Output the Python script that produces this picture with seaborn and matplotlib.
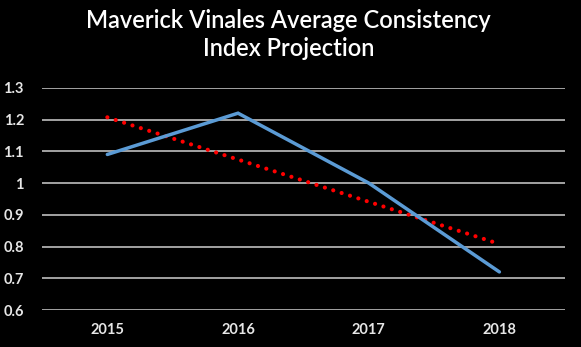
import numpy as np
import pandas as pd
import matplotlib
matplotlib.use("Agg")
import matplotlib.pyplot as plt
import seaborn as sns

years = [2015, 2016, 2017, 2018]
consistency = [1.09, 1.22, 1.0, 0.72]
yticks = [0.6, 0.7, 0.8, 0.9, 1.0, 1.1, 1.2, 1.3]
ytick_labels = ["0.6", "0.7", "0.8", "0.9", "1", "1.1", "1.2", "1.3"]
title = "Maverick Vinales Average Consistency\nIndex Projection"

sns.set_style("dark")
plt.rcParams["font.family"] = ["Lato", "DejaVu Sans"]

df = pd.DataFrame({"year": years, "value": consistency})
coef = np.polyfit(df["year"], df["value"], 1)
df["trend"] = np.polyval(coef, df["year"])

fig = plt.figure(figsize=(5.81, 3.47), dpi=100, facecolor="black")
ax = fig.add_axes([0.0723, 0.1066, 0.8997, 0.6404])
ax.set_facecolor("black")

for y in yticks:
    ax.axhline(y, color="#b0b0b0", lw=1.3, zorder=0)

sns.lineplot(data=df, x="year", y="trend", ax=ax, color="#ff0000", lw=3.0,
             linestyle=(0, (0.01, 2.1)), solid_capstyle="round",
             dash_capstyle="round", zorder=2)
sns.lineplot(data=df, x="year", y="value", ax=ax, color="#5b9bd5", lw=2.5,
             solid_capstyle="round", solid_joinstyle="miter", zorder=3)

ax.set_xlim(years[0] - 0.5, years[-1] + 0.5)
ax.set_ylim(0.6, 1.3)
ax.set_xticks(years)
ax.set_xticklabels([str(y) for y in years], color="#e6e6e6", fontsize=10.5,
                   fontweight="bold")
ax.set_yticks(yticks)
ax.set_yticklabels(ytick_labels, color="#e6e6e6", fontsize=10.5,
                   fontweight="bold")
ax.tick_params(axis="y", length=0, pad=13)
ax.tick_params(axis="x", length=0, pad=9)
ax.set_xlabel("")
ax.set_ylabel("")
ax.grid(False)
for s in ax.spines.values():
    s.set_visible(False)

fig.text(0.497, 0.975, title, ha="center", va="top", color="white",
         fontsize=17, linespacing=1.3, fontweight="semibold")

fig.savefig("out.png", dpi=100, facecolor="black")
